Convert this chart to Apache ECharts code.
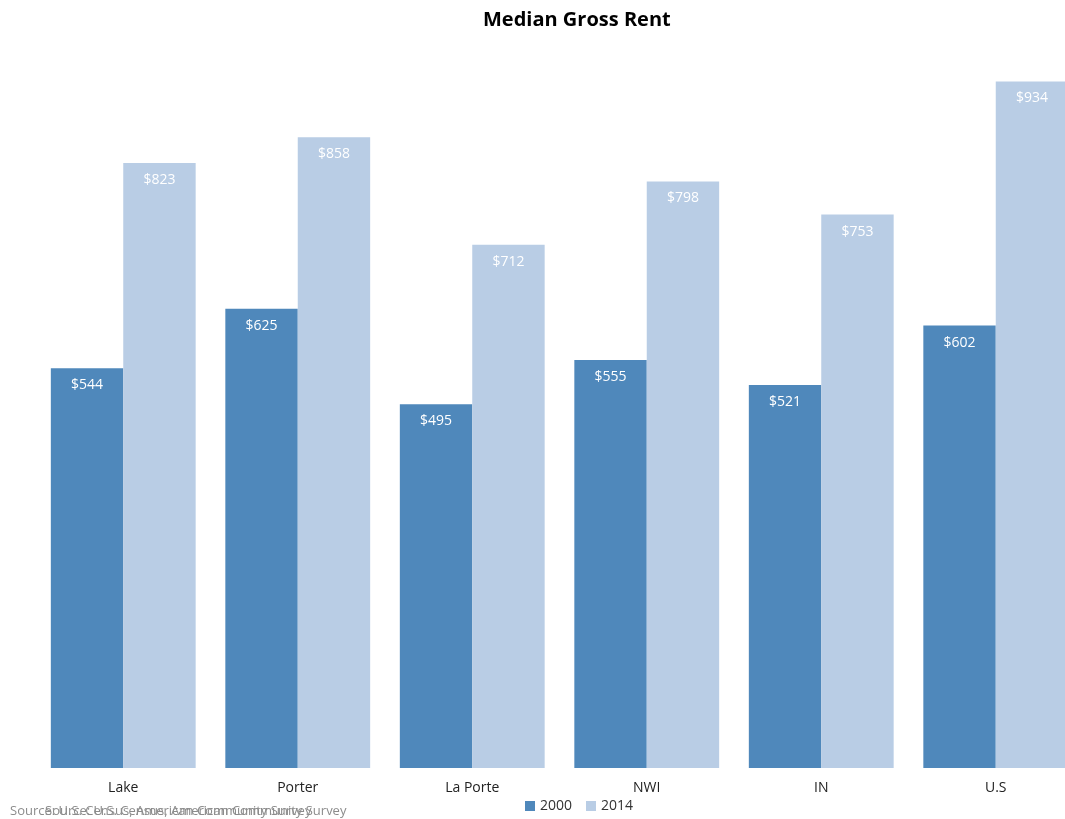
<!DOCTYPE html>
<html><head><meta charset="utf-8">
<script src="https://cdn.jsdelivr.net/npm/echarts@6/dist/echarts.min.js"></script>
<style>html,body{margin:0;padding:0;background:#fff}#c{width:1065px;height:819px}</style>
</head><body><div id="c"></div>
<script>
const categories = ['Lake', 'Porter', 'La Porte', 'NWI', 'IN', 'U.S'];
const rent2000 = [544, 625, 495, 555, 521, 602];
const rent2014 = [823, 858, 712, 798, 753, 934];
const seriesNames = ['2000', '2014'];
const titleText = 'Median Gross Rent';
const sourceText = 'Source: U.S. Census, American Community Survey';

const font = '"Open Sans", "Noto Sans", sans-serif';
const chart = echarts.init(document.getElementById('c'));
const lbl = {
  show: true, position: 'insideTop', distance: 10, color: '#fff',
  fontSize: 14, fontFamily: font,
  formatter: p => '$' + p.value
};
chart.setOption({
  animation: false,
  title: { text: titleText, left: 478, top: 5,
    textStyle: { fontSize: 20, fontWeight: 'bold', color: '#000', fontFamily: font } },
  legend: { data: seriesNames, left: 520, top: 794, itemWidth: 10, itemHeight: 10, itemGap: 14,
    icon: 'rect', textStyle: { fontSize: 14, color: '#333', fontFamily: font } },
  grid: { left: 36, right: -18, top: 33, bottom: 51, outerBoundsMode: 'none', containLabel: false },
  xAxis: { type: 'category', data: categories,
    axisLine: { show: false }, axisTick: { show: false },
    axisLabel: { fontSize: 14, color: '#222', fontFamily: font, margin: 13 } },
  yAxis: { type: 'value', min: 0, max: 1000, show: false, splitLine: { show: false } },
  graphic: [
    { type: 'text', left: 10, top: 805, style: { text: sourceText, fill: '#8c8c8c', font: '13px ' + font } },
    { type: 'text', left: 45, top: 805, style: { text: sourceText, fill: '#8c8c8c', font: '13px ' + font } }
  ],
  series: [
    { name: seriesNames[0], type: 'bar', data: rent2000, barGap: '0%', barCategoryGap: '17%',
      itemStyle: { color: '#4f88bb' }, label: lbl },
    { name: seriesNames[1], type: 'bar', data: rent2014,
      itemStyle: { color: '#b9cde5' }, label: lbl }
  ]
});
</script></body></html>
